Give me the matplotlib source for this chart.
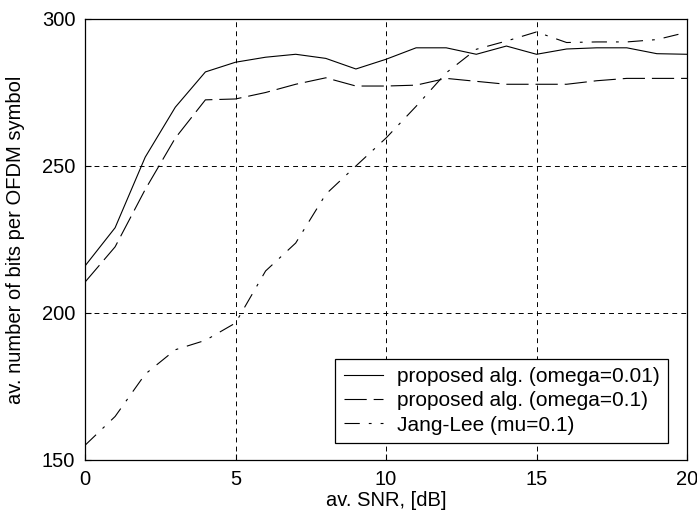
import matplotlib
matplotlib.use("Agg")
import matplotlib.pyplot as plt

plt.rcParams['font.family'] = ['Liberation Sans', 'DejaVu Sans']
plt.rcParams['lines.scale_dashes'] = False

snr = list(range(0, 21))
omega001 = [216, 229, 253, 270, 282, 285.3, 287, 288, 286.6, 283, 286.3, 290.2, 290.2, 288, 290.8,
            288, 289.8, 290.2, 290.2, 288.2, 288]
omega01 = [210.5, 222.5, 242, 259.5, 272.5, 272.8, 275, 277.8, 280, 277.2, 277.2, 277.5, 279.8, 278.8,
           277.8, 277.8, 277.8, 279, 279.8, 279.8, 279.8]
janglee = [155, 164.8, 179.2, 187.5, 190.7, 196.6, 214.3, 223.8, 240.4, 250, 259.5, 270.3, 281.7, 289.7,
           292.5, 295.6, 292, 292.2, 292.2, 293, 295.5]

labels = ['proposed alg. (omega=0.01)', 'proposed alg. (omega=0.1)', 'Jang-Lee (mu=0.1)']
xticks = [0, 5, 10, 15, 20]
yticks = [150, 200, 250, 300]

FS = 14.5

fig = plt.figure(figsize=(6.97, 5.19), dpi=100)
ax = fig.add_axes([85/697, 1-460/519, (687-85)/697, (460-19)/519])

ax.plot(snr, omega001, color='black', lw=0.8, linestyle='-', label=labels[0])
ax.plot(snr, omega01, color='black', lw=0.8, dashes=(16, 5), label=labels[1])
ax.plot(snr, janglee, color='black', lw=0.8, dashes=(11, 6.5, 2, 6.5), label=labels[2])

ax.set_xlim(0, 20)
ax.set_ylim(150, 300)
ax.set_xticks(xticks)
ax.set_yticks(yticks)
ax.grid(True, color='black', lw=0.7, dashes=(3.5, 3))
ax.tick_params(direction='in', length=4, width=0.8, labelsize=FS, pad=7, colors='black')
for s in ax.spines.values():
    s.set_linewidth(0.9)
    s.set_color('black')

ax.set_xlabel('av. SNR, [dB]', fontsize=FS, labelpad=2)
ax.set_ylabel('av. number of bits per OFDM symbol', fontsize=FS, labelpad=12)

leg = ax.legend(loc='lower right', bbox_to_anchor=(1 - 19/602, 17/441), fontsize=15,
                frameon=True, fancybox=False, framealpha=1, edgecolor='black',
                handlelength=1.9, handletextpad=0.65, borderaxespad=0,
                labelspacing=0.25, borderpad=0.4)
leg.get_frame().set_linewidth(0.9)

fig.savefig('out.png', dpi=100, facecolor='white')
